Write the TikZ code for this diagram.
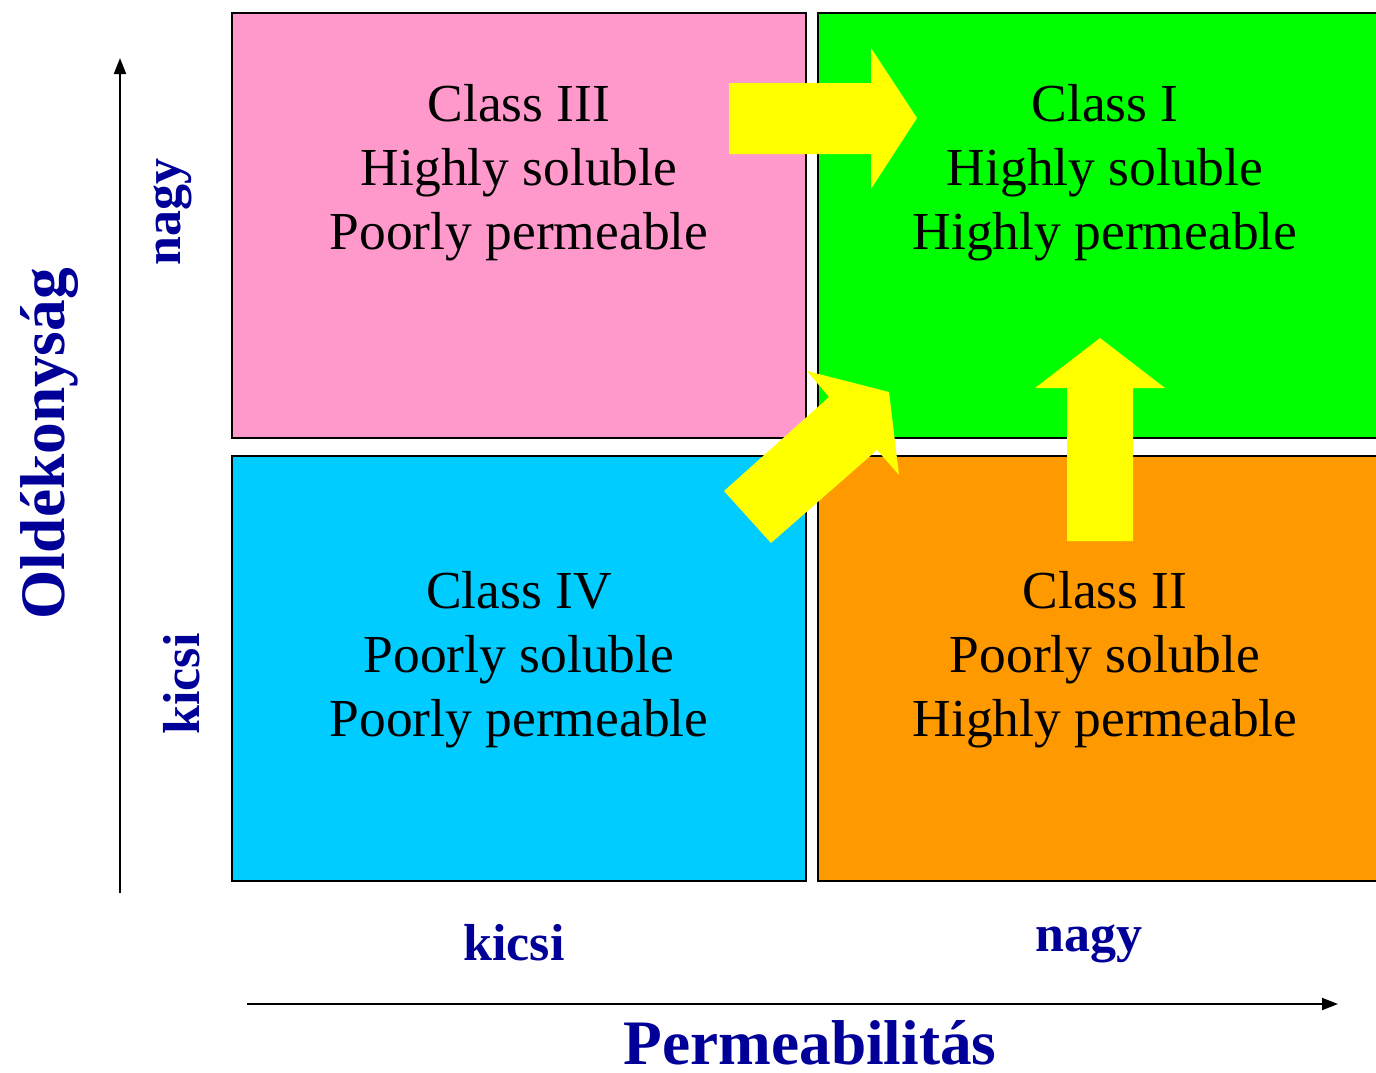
\documentclass[tikz,border=0pt]{standalone}
\usepackage{fontspec}
\setmainfont{Liberation Serif}
\usetikzlibrary{arrows.meta}
\definecolor{cpink}{HTML}{FF99CC}
\definecolor{cgreen}{HTML}{00FF00}
\definecolor{ccyan}{HTML}{00CCFF}
\definecolor{corange}{HTML}{FF9900}
\definecolor{cyell}{HTML}{FFFF00}
\definecolor{cnavy}{HTML}{000099}
\begin{document}
\begin{tikzpicture}[x=0.75pt,y=-0.75pt,
  box/.style={draw=black,line width=1.2pt},
  body/.style={font=\fontsize{40.1}{46}\selectfont,anchor=base,inner sep=0pt},
  axlab/.style={font=\bfseries\fontsize{39}{44}\selectfont,text=cnavy,anchor=base,inner sep=0pt},
  axtitle/.style={font=\bfseries\fontsize{47.5}{52}\selectfont,text=cnavy,anchor=base,inner sep=0pt},
  blockarrow/.style={fill=cyell,draw=none},
  axis/.style={line width=1.5pt,-{Triangle[length=12pt,width=9pt]}}]
\useasboundingbox (0,0) rectangle (1376,1072);
\clip (0,0) rectangle (1376,1072);
% quadrants
\draw[box,fill=cpink] (232,13) rectangle (806,438);
\draw[box,fill=cgreen] (818,13) rectangle (1380,438);
\draw[box,fill=ccyan] (232,456) rectangle (806,881);
\draw[box,fill=corange] (818,456) rectangle (1380,881);
% block arrows
\fill[blockarrow] (729,83) -- (871,83) -- (871,48) -- (917,118) -- (871,189) -- (871,154) -- (729,154) -- cycle;
\fill[blockarrow] (1067,541) -- (1067,388) -- (1035,388) -- (1100,338) -- (1165,388) -- (1133,388) -- (1133,541) -- cycle;
\fill[blockarrow] (724,491) -- (829,397) -- (807,371) -- (889,392) -- (899,475) -- (877,450) -- (771,543) -- cycle;
% quadrant texts
\node[body] (c3a) at (519,121) {Class III};
\node[body] (c3b) at (519,185) {Highly soluble};
\node[body] (c3c) at (519,249) {Poorly permeable};
\node[body] (c1a) at (1105,121) {Class I};
\node[body] (c1b) at (1105,185) {Highly soluble};
\node[body] (c1c) at (1105,249) {Highly permeable};
\node[body] (c4a) at (519,608) {Class IV};
\node[body] (c4b) at (519,672) {Poorly soluble};
\node[body] (c4c) at (519,736) {Poorly permeable};
\node[body] (c2a) at (1105,608) {Class II};
\node[body] (c2b) at (1105,672) {Poorly soluble};
\node[body] (c2c) at (1105,736) {Highly permeable};
% axes
\coordinate (ys) at (120,893);
\coordinate (ye) at (120,58);
\coordinate (xs) at (247,1004);
\coordinate (xe) at (1338,1004);
\draw[axis] (ys) -- (ye);
\draw[axis] (xs) -- (xe);
% axis labels
\node[axlab] (xk) at (514,960) {kicsi};
\node[axlab] (xn) at (1089,951) {nagy};
\node[axlab,rotate=90] (yn) at (180,212) {nagy};
\node[axlab,rotate=90] (yk) at (199,684) {kicsi};
\node[axtitle] (xt) at (810,1064) {Permeabilitás};
\node[axtitle,rotate=90] (yt) at (64,444) {Oldékonyság};
\end{tikzpicture}
\end{document}
